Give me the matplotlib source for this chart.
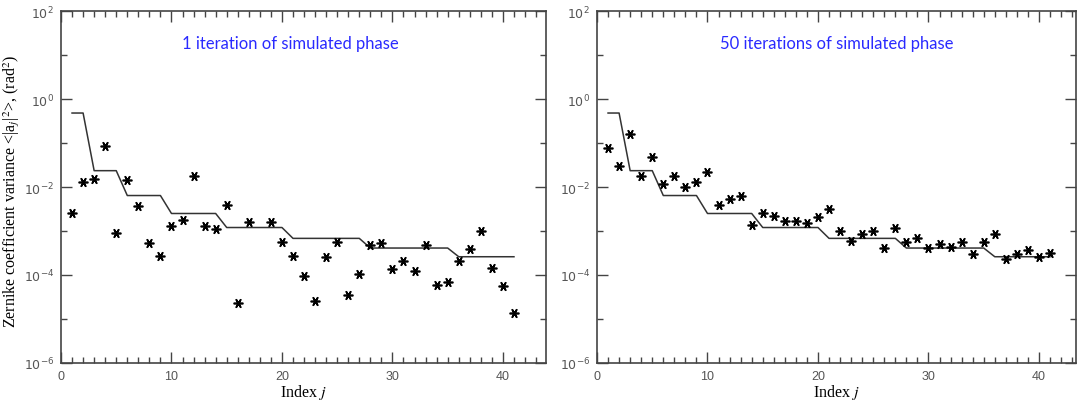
import numpy as np
import matplotlib
matplotlib.use("Agg")
import matplotlib.pyplot as plt
from matplotlib.ticker import FixedLocator, FixedFormatter

# Zernike index j
j = np.arange(1, 42)

# theoretical (Noll) variance, stepped per radial order
theory = [0.48, 0.48,
          0.0235, 0.0235, 0.0235,
          0.0064, 0.0064, 0.0064, 0.0064,
          0.0025, 0.0025, 0.0025, 0.0025, 0.0025,
          0.0012, 0.0012, 0.0012, 0.0012, 0.0012, 0.0012,
          0.00068, 0.00068, 0.00068, 0.00068, 0.00068, 0.00068, 0.00068,
          0.00041, 0.00041, 0.00041, 0.00041, 0.00041, 0.00041, 0.00041, 0.00041,
          0.00026, 0.00026, 0.00026, 0.00026, 0.00026, 0.00026]

# 1 iteration of simulated phase
var_1 = [0.0026, 0.013, 0.0152, 0.085, 0.00090, 0.0144, 0.0037, 0.00053, 0.00027, 0.0013,
         0.00178, 0.0178, 0.0013, 0.00111, 0.0039, 2.3e-5, 0.0016, np.nan, 0.0016, 0.00056,
         0.00027, 9.5e-5, 2.6e-5, 0.00026, 0.00056, 3.5e-5, 0.000105, 0.00048, 0.00053, 0.000137,
         0.00021, 0.000123, 0.00048, 5.9e-5, 6.9e-5, 0.00021, 0.00039, 0.0010, 0.000145, 5.6e-5,
         1.37e-5]

# 50 iterations of simulated phase
var_50 = [0.078, 0.030, 0.16, 0.018, 0.049, 0.012, 0.018, 0.0102, 0.0133, 0.022,
          0.0040, 0.0052, 0.0064, 0.00134, 0.0025, 0.0022, 0.00165, 0.0017, 0.00149, 0.0021,
          0.0032, 0.00098, 0.00058, 0.00084, 0.00098, 0.00041, 0.00115, 0.00055, 0.00068, 0.00041,
          0.00050, 0.00043, 0.00055, 0.00030, 0.00055, 0.00084, 0.00023, 0.00030, 0.00037, 0.00025,
          0.00031]

titles = ["1 iteration of simulated phase", "50 iterations of simulated phase"]

fig = plt.figure(figsize=(10.78, 4.06), dpi=100)
ax1 = fig.add_axes([61/1078, 42/406, 485/1078, 352/406])
ax2 = fig.add_axes([597/1078, 42/406, 479/1078, 352/406])

axcol = "#444444"
lblcol = "#555555"
star = (6, 2, 90)

for ax, data, title, xmax, tx in [(ax1, var_1, titles[0], 43.9, 20.8),
                                  (ax2, var_50, titles[1], 43.35, 21.7)]:
    ax.plot(j, theory, color="#333333", lw=1.1)
    ax.plot(j, data, ls="none", marker=star, ms=7, mew=1.2, color="black")
    ax.set_yscale("log")
    ax.set_ylim(1e-6, 1e2)
    ax.set_xlim(0, xmax)

    ax.yaxis.set_major_locator(FixedLocator([1e-6, 1e-4, 1e-2, 1e0, 1e2]))
    ax.yaxis.set_major_formatter(FixedFormatter([r"$10^{-6}$", r"$10^{-4}$", r"$10^{-2}$",
                                                 r"$10^{0}$", r"$10^{2}$"]))
    ax.yaxis.set_minor_locator(FixedLocator([1e-5, 1e-3, 1e-1, 1e1]))
    ax.yaxis.set_minor_formatter(FixedFormatter([]))
    ax.xaxis.set_major_locator(FixedLocator([0, 10, 20, 30, 40]))
    ax.xaxis.set_minor_locator(FixedLocator(np.arange(0, 44)))

    ax.tick_params(which="both", direction="in", top=True, right=True,
                   color=axcol, width=1.0, labelcolor=lblcol, labelsize=9)
    ax.tick_params(which="major", length=8, pad=5)
    ax.tick_params(which="minor", length=4)
    for s in ax.spines.values():
        s.set_color(axcol)
        s.set_linewidth(1.2)
    for lab in ax.get_xticklabels() + ax.get_yticklabels():
        lab.set_fontfamily("Liberation Sans")

    ax.text(tx, 0.91, title, transform=ax.get_xaxis_transform(), ha="center", va="center",
            color="#2a2aff", fontsize=12, family="Lato")
    xl = ax.set_xlabel("Index $j$", fontsize=11.5, family="Liberation Serif", labelpad=0)
    xl.set_math_fontfamily("stix")

yl = ax1.set_ylabel(r"Zernike coefficient variance <|a$_j$|$^2$>, (rad$^2$)",
                    fontsize=11.5, family="Liberation Serif")
yl.set_math_fontfamily("stix")
ax1.yaxis.set_label_coords(-0.08, 0.49)

fig.savefig("out.png", dpi=100, facecolor="white")
